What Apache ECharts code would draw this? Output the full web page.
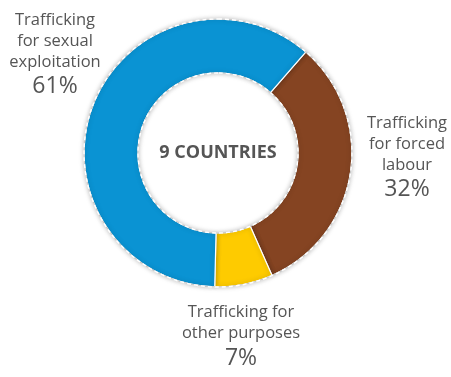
<!DOCTYPE html>
<html>
<head>
<meta charset="utf-8">
<script src="https://cdn.jsdelivr.net/npm/echarts@6/dist/echarts.min.js"></script>
<style>
  html, body { margin: 0; padding: 0; background: #fff; }
  #chart { width: 451px; height: 377px; }
</style>
</head>
<body>
<div id="chart"></div>
<script>
// slice order runs clockwise from the top-right
var categories = ['Trafficking\nfor forced\nlabour', 'Trafficking for\nother purposes', 'Trafficking\nfor sexual\nexploitation']
var shares = [32, 7, 61]
var sliceColors = ['#854422', '#fecb00', '#0a93d3']
var centerText = '9 COUNTRIES'

// label anchor per slice (text only)
var labelPos = [[407, 158], [241, 337], [55, 55]]

var chart = echarts.init(document.getElementById('chart'))

var data = categories.map(function(c, i) {
  return { name: c, value: shares[i], itemStyle: { color: sliceColors[i] } }
})

function rim(color, width, type) {
  return {
    type: 'pie',
    center: [218, 153],
    radius: [80, 134],
    silent: true,
    itemStyle: { color: 'transparent', borderColor: color, borderWidth: width, borderType: type },
    label: { show: false },
    labelLine: { show: false },
    data: [{ value: 1, name: 'rim' }]
  }
}

var grayRim = rim('#c8c8c8', 1.2, 'solid')
var dashRim = rim('#fff', 1.4, [4, 3])
dashRim.label = {
  show: true,
  position: 'center',
  formatter: centerText,
  fontSize: 18,
  fontWeight: 'bold',
  color: '#555',
  fontFamily: 'Open Sans'
}

chart.setOption({
  animation: false,
  textStyle: { fontFamily: 'Open Sans' },
  series: [{
    type: 'pie',
    center: [218, 153],
    radius: [80, 134],
    startAngle: 49,
    clockwise: true,
    silent: true,
    itemStyle: {
      borderColor: '#fff',
      borderWidth: 1.2,
      shadowBlur: 5,
      shadowColor: 'rgba(0,0,0,0.25)'
    },
    labelLine: { show: false },
    label: {
      show: true,
      position: 'outside',
      overflow: 'none',
      alignTo: 'none',
      formatter: function(p) {
        var lines = p.name.split('\n').map(function(l) { return '{n|' + l + '}' })
        return lines.join('\n') + '\n{p|' + p.value + '%}'
      },
      rich: {
        n: { fontSize: 16.5, lineHeight: 21, color: '#555', fontFamily: 'Open Sans', align: 'center' },
        p: { fontSize: 23, lineHeight: 28, color: '#555', fontFamily: 'Open Sans', align: 'center' }
      }
    },
    labelLayout: function(params) {
      var pos = labelPos[params.dataIndex]
      return { x: pos[0], y: pos[1], align: 'center', verticalAlign: 'middle' }
    },
    data: data
  }, grayRim, dashRim]
})
</script>
</body>
</html>
